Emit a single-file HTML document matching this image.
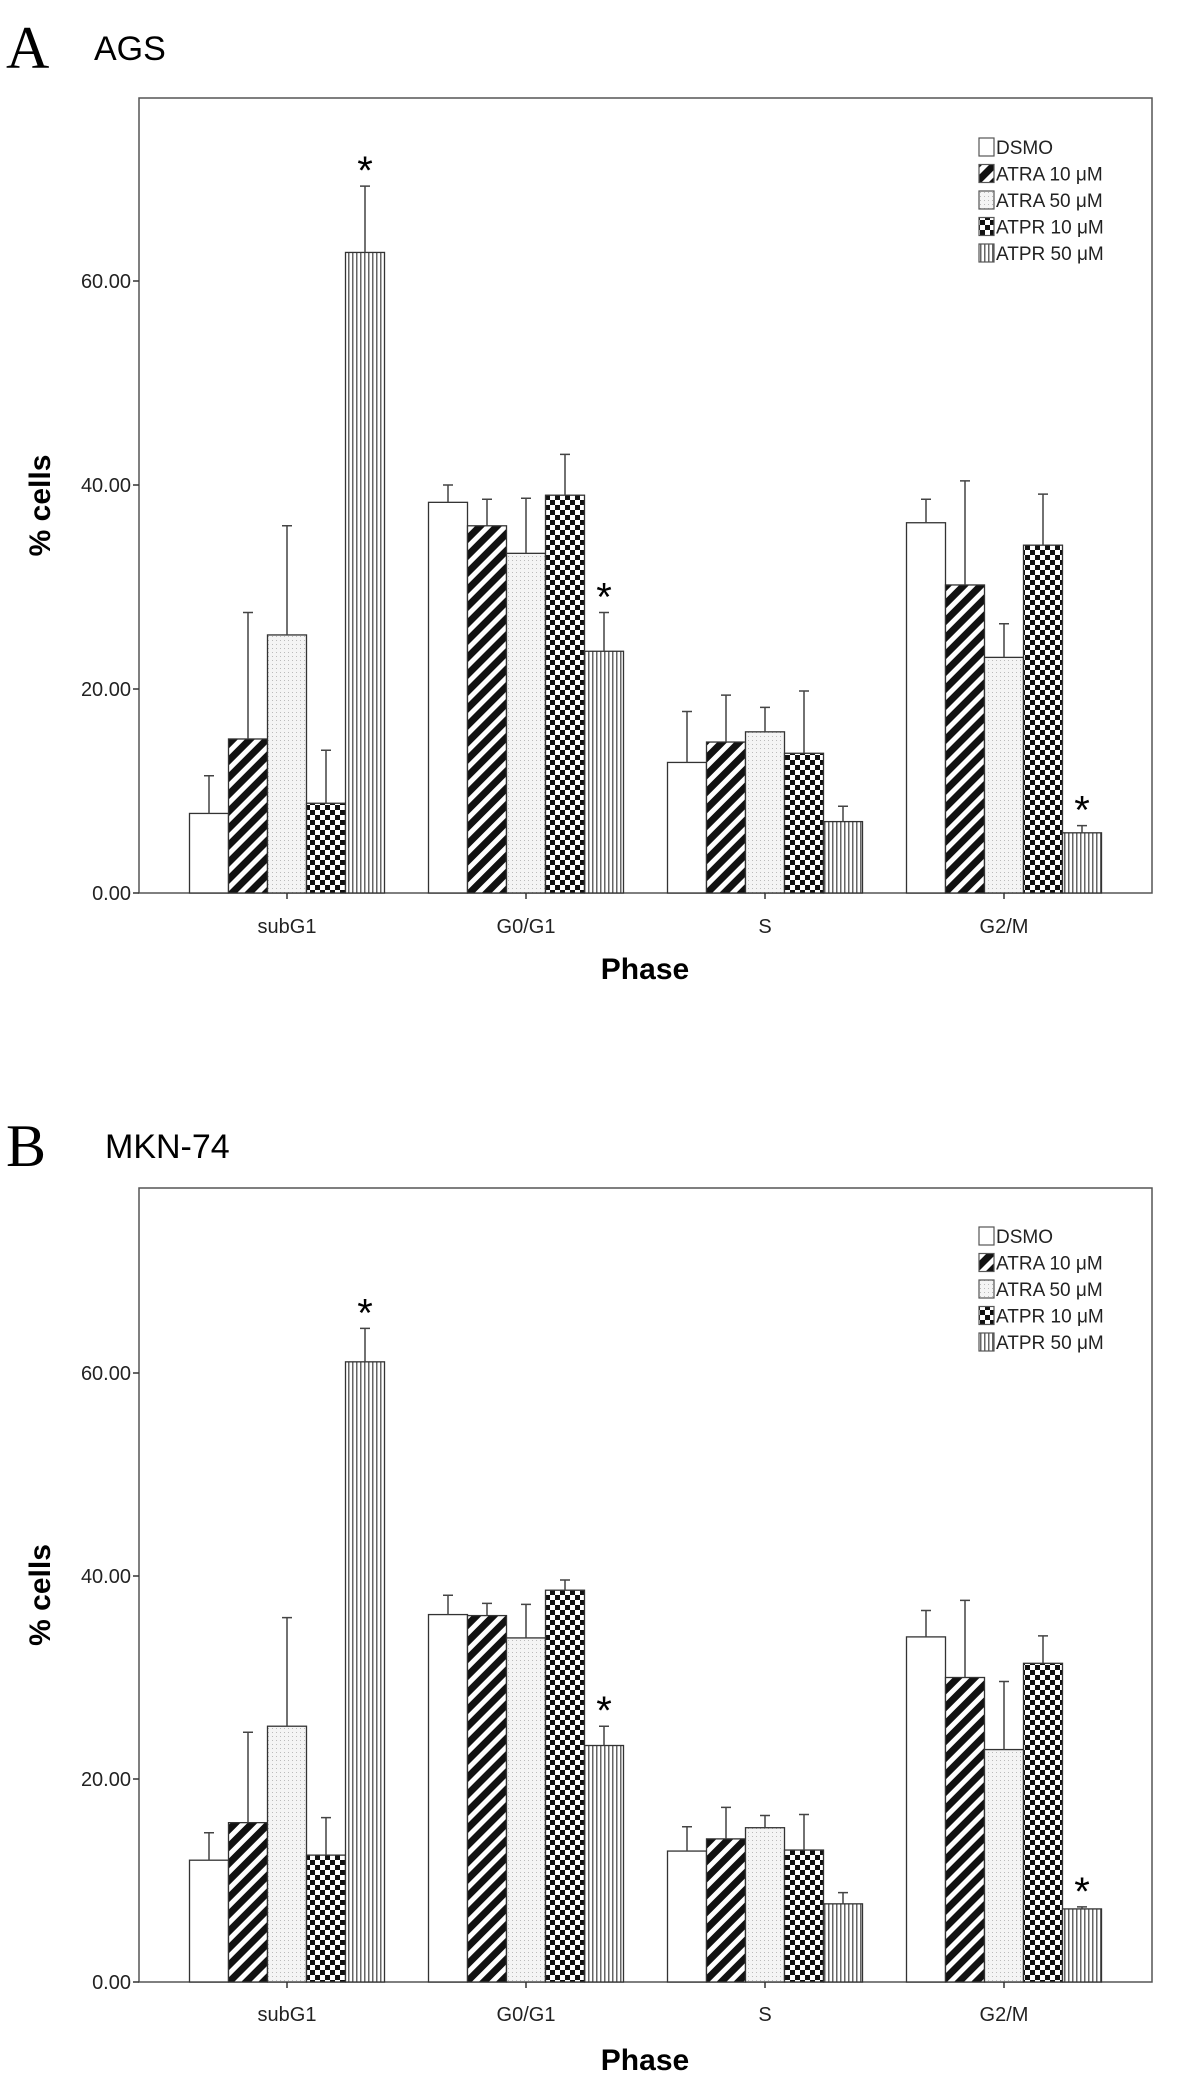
<!DOCTYPE html>
<html><head><meta charset="utf-8"><style>
html,body{margin:0;padding:0;background:#fff;}
svg{display:block;font-family:"Liberation Sans",sans-serif;}
</style></head><body>
<svg id="fig" width="1179" height="2085" viewBox="0 0 1179 2085">
<defs>
<pattern id="p-diag" patternUnits="userSpaceOnUse" width="12" height="12" patternTransform="rotate(45)">
<rect width="12" height="12" fill="#fff"/><rect width="7" height="12" fill="#111"/></pattern>
<pattern id="p-dots" patternUnits="userSpaceOnUse" width="4" height="4">
<rect width="4" height="4" fill="#f4f4f4"/><rect width="1" height="1" fill="#bbb"/></pattern>
<pattern id="p-check" patternUnits="userSpaceOnUse" width="10" height="10">
<rect width="10" height="10" fill="#fff"/><rect width="5" height="5" fill="#111"/><rect x="5" y="5" width="5" height="5" fill="#111"/></pattern>
<pattern id="p-vert" patternUnits="userSpaceOnUse" width="4" height="4">
<rect width="4" height="4" fill="#fff"/><rect width="1.5" height="4" fill="#666"/></pattern>
</defs>
</svg>
<script>
const categories = ["subG1","G0/G1","S","G2/M"];
const seriesNames = ["DSMO","ATRA 10 μM","ATRA 50 μM","ATPR 10 μM","ATPR 50 μM"];
const yTicks = ["0.00","20.00","40.00","60.00"];
const yTickValues = [0,20,40,60];
// Panel A (AGS): means per series across categories
const agsDSMO = [7.8,38.3,12.8,36.3];
const agsATRA10 = [15.1,36.0,14.8,30.2];
const agsATRA50 = [25.3,33.3,15.8,23.1];
const agsATPR10 = [8.8,39.0,13.7,34.1];
const agsATPR50 = [62.8,23.7,7.0,5.9];
const agsErrDSMO = [11.5,40.0,17.8,38.6];
const agsErrATRA10 = [27.5,38.6,19.4,40.4];
const agsErrATRA50 = [36.0,38.7,18.2,26.4];
const agsErrATPR10 = [14.0,43.0,19.8,39.1];
const agsErrATPR50 = [69.3,27.5,8.5,6.6];
const agsStars = [[4,0],[4,1],[4,3]];
// Panel B (MKN-74)
const mknDSMO = [12.0,36.2,12.9,34.0];
const mknATRA10 = [15.7,36.1,14.1,30.0];
const mknATRA50 = [25.2,33.9,15.2,22.9];
const mknATPR10 = [12.5,38.6,13.0,31.4];
const mknATPR50 = [61.1,23.3,7.7,7.2];
const mknErrDSMO = [14.7,38.1,15.3,36.6];
const mknErrATRA10 = [24.6,37.3,17.2,37.6];
const mknErrATRA50 = [35.9,37.2,16.4,29.6];
const mknErrATPR10 = [16.2,39.6,16.5,34.1];
const mknErrATPR50 = [64.4,25.2,8.8,7.4];
const mknStars = [[4,0],[4,1],[4,3]];

const NS="http://www.w3.org/2000/svg";
const svg=document.getElementById('fig');
const fills=["#fff","url(#p-diag)","url(#p-dots)","url(#p-check)","url(#p-vert)"];
function el(tag,attrs,parent,text){const e=document.createElementNS(NS,tag);for(const k in attrs)e.setAttribute(k,attrs[k]);if(text!==undefined)e.textContent=text;(parent||svg).appendChild(e);return e;}

function panel(opt){
  const g=el('g',{});
  
  
  const X0=139,X1=1152,top=opt.top,base=opt.base,pxPer=opt.pxPer;
  const y=v=>base-v*pxPer;
  const groupStart=i=>189.5+i*239;
  const bw=39;
  const letter=el('text',{x:6,y:opt.titleY+20,'font-family':'Liberation Serif, serif','font-size':60},g,opt.letter);
  
  
  const title=el('text',{x:opt.titleX,y:opt.titleY+12,'font-size':34},g,opt.title);
  
  
  const frame=el('rect',{x:X0,y:top,width:X1-X0,height:base-top,fill:'none',stroke:'#555','stroke-width':1.5},g);
  
  
  yTickValues.forEach((v,i)=>{
    const t=el('line',{x1:X0-6,x2:X0,y1:y(v),y2:y(v),stroke:'#333','stroke-width':1.5},g);
    
    
    const l=el('text',{x:X0-8,y:y(v)+7,'font-size':20,'text-anchor':'end',fill:'#222'},g,yTicks[i]);
    
    
  });
  const yt=el('text',{x:0,y:0,'font-size':30,'font-weight':'bold','text-anchor':'middle',transform:`translate(50,${(top+base)/2+10}) rotate(-90)`},g,'% cells');
  
  
  const xt=el('text',{x:645,y:opt.phaseY+11,'font-size':30,'font-weight':'bold','text-anchor':'middle'},g,'Phase');
  
  
  categories.forEach((c,i)=>{
    const cx=groupStart(i)+bw*2.5;
    const tk=el('line',{x1:cx,x2:cx,y1:base,y2:base+6,stroke:'#333','stroke-width':1.5},g);
    
    
    const tl=el('text',{x:cx,y:opt.catY+7,'font-size':20,'text-anchor':'middle',fill:'#222'},g,c);
    
    
  });
  opt.series.forEach((vals,s)=>{
    vals.forEach((v,i)=>{
      const bx=groupStart(i)+s*bw;
      const r=el('rect',{x:bx,y:y(v),width:bw,height:base-y(v),fill:fills[s],stroke:'#333','stroke-width':1.3},g);
      
      
      const e=opt.errs[s][i];
      const cx=bx+bw/2;
      const eb=el('path',{d:`M${cx},${y(v)}V${y(e)}M${cx-5},${y(e)}H${cx+5}`,stroke:'#444','stroke-width':1.5,fill:'none'},g);
      
      
    });
  });
  opt.stars.forEach(([s,i])=>{
    const cx=groupStart(i)+s*bw+bw/2;
    const st=el('text',{x:cx,y:y(opt.errs[s][i])-2,'font-size':40,'text-anchor':'middle'},g,'*');
    
    
  });
  seriesNames.forEach((n,s)=>{
    const ly=opt.legY+s*26.5;
    const b=el('rect',{x:979,y:ly-9,width:15,height:18,fill:fills[s],stroke:'#555','stroke-width':1.2},g);
    
    
    const t=el('text',{x:996,y:ly+7,'font-size':19,fill:'#222'},g,n);
    
    
  });
}
panel({name:'panel-a-ags',letter:'A',title:'AGS',titleX:94,titleY:48,top:98,base:893,pxPer:204/20,catY:926,phaseY:968,legY:147,
  series:[agsDSMO,agsATRA10,agsATRA50,agsATPR10,agsATPR50],
  errs:[agsErrDSMO,agsErrATRA10,agsErrATRA50,agsErrATPR10,agsErrATPR50],stars:agsStars});
panel({name:'panel-b-mkn74',letter:'B',title:'MKN-74',titleX:105,titleY:1146,top:1188,base:1982,pxPer:203/20,catY:2014,phaseY:2059,legY:1236,
  series:[mknDSMO,mknATRA10,mknATRA50,mknATPR10,mknATPR50],
  errs:[mknErrDSMO,mknErrATRA10,mknErrATRA50,mknErrATPR10,mknErrATPR50],stars:mknStars});
</script>
</body></html>
